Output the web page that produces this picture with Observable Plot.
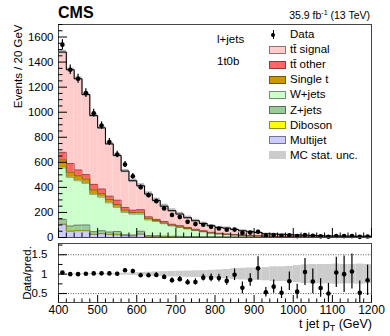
<!DOCTYPE html>
<html><head><meta charset="utf-8">
<script src="https://cdn.jsdelivr.net/npm/d3@7"></script>
<script src="https://cdn.jsdelivr.net/npm/@observablehq/plot@0.6"></script>
<style>
body{margin:0;background:#fff;}
#c{position:relative;width:390px;height:336px;font-family:"Liberation Sans",Arial,sans-serif;color:#000;overflow:hidden;background:#fff}
.abs{position:absolute;white-space:nowrap;line-height:1}
#main{position:absolute;left:0;top:0}
#ratio{position:absolute;left:0;top:237px}
.sw{position:absolute;width:17px;height:8px;box-sizing:border-box}
</style></head><body><div id="c"><div id="main"></div><div id="ratio"></div></div>
<script>
const binLow=[400,420,440,460,480,500,520,540,560,580,600,620,640,660,680,700,720,740,760,780,800,820,840,860,880,900,920,940,960,980,1000,1020,1040,1060,1080,1100,1120,1140,1160,1180];
const binWidth=20;
const multijet=[105,50,54,54,24,30,24,22,14,12,27,8,8,6,5,5,4,4,3,3,3,2,2,2,2,1,1,1,1,1,1,1,0.5,0.5,0.5,0.5,0.5,0.5,0.4,0.4];
const diboson=[3,3,3,3,3,3,2,2,2,2,2,2,2,1,1,1,1,1,1,1,0.5,0.5,0.5,0.5,0.3,0.3,0.3,0.2,0.2,0.2,0.2,0.2,0.2,0.2,0.1,0.1,0.1,0.1,0.1,0.1];
const zjets=[37,39,42,43,20,21,18,24,6,6,21,5,4,4,4,3,3,2,2,2,1.5,2.5,1.5,1.5,0.7,1.7,1.7,0.8,0.8,0.8,0.8,0.8,0.8,0.8,0.4,0.4,0.4,0.4,0.4,0.4];
const wjets=[410,388,354,332,297,268,232,192,178,166,136,125,114,99,82,71,60,48,39,28,23,18,15,12,9,8,7,6,5,4,4,3,3,2.5,2.5,2,2,2,1.8,1.8];
const singleT=[65,42,40,35,36,28,29,23,20,14,17,14,7,6,6,5,4,3,3,3,2,2,2,1,1,1,1,1,1,1,0.5,0.5,0.5,0.5,0.5,0.5,0.5,0.4,0.4,0.4];
const ttOther=[60,68,46,35,44,37,25,35,20,18,19,11,10,12,8,9,8,8,6,5,4,3,3,3,2,2,1,1,1,1,0.5,0.5,0.5,0.5,0.5,0.5,0.5,0.4,0.4,0.4];
const ttSignal=[800,749,728,639,549,488,417,357,290,235,191,182,151,122,108,93,78,68,58,52,46,47,40,34,31,26,18,18,16,14,13,12,10.5,9,7.5,7.5,7,6.5,6.1,6];
const dataCounts=[1539,1339,1267,1152,992,893,762,662,583,489,401,337,290,232,180,163,125,107,102,85,72,62,63,35,39,46,16,19,13,18,11,19,13,9,6,12,11,11,5,8];
const ratioErr=[0.027,0.028,0.029,0.03,0.032,0.034,0.037,0.04,0.045,0.05,0.05,0.055,0.06,0.065,0.065,0.07,0.07,0.08,0.09,0.1,0.1,0.11,0.15,0.15,0.16,0.30,0.12,0.17,0.15,0.24,0.19,0.35,0.32,0.24,0.26,0.39,0.47,0.45,0.30,0.39];
const mcRelUnc=[0.01,0.01,0.012,0.012,0.015,0.015,0.018,0.02,0.025,0.03,0.04,0.05,0.06,0.065,0.07,0.075,0.08,0.085,0.09,0.1,0.11,0.12,0.14,0.15,0.16,0.16,0.17,0.19,0.19,0.2,0.22,0.24,0.25,0.25,0.25,0.26,0.25,0.25,0.26,0.25];
const xTicksMajor=[400,500,600,700,800,900,1000,1100,1200];
const yTicksMain=[0,200,400,600,800,1000,1200,1400,1600];
const yTicksRatio=[0.5,1,1.5];
const yTicksRatioMinor=[0.75,1.25,1.75];
const processNames=["Multijet","Diboson","Z+jets","W+jets","Single t","tt\u0304 other","tt\u0304 signal"];
const processColors=["#ccccff","#ffff00","#99cc99","#ccffcc","#cc9900","#ff6666","#ffcccc"];
const processValues=[multijet,diboson,zjets,wjets,singleT,ttOther,ttSignal];

const xMinor=d3.range(400,1201,20).filter(v=>v%100!==0);
const yMinorMain=d3.range(0,1701,50).filter(v=>v%200!==0);

const rects=[], tops=[];
const totals=binLow.map((x,i)=>d3.sum(processValues,a=>a[i]));
binLow.forEach((x,i)=>{
  let cum=0;
  processValues.forEach((arr,k)=>{
    const y1=cum, y2=cum+arr[i]; cum=y2;
    rects.push({x1:x,x2:x+binWidth,y1,y2,fill:processColors[k]});
  });
});
processValues.forEach((arr,k)=>{
  const pts=binLow.map((x,i)=>({x, y:d3.sum(processValues.slice(0,k+1),a=>a[i]), k}));
  pts.push({x:1200,y:pts[pts.length-1].y,k});
  tops.push(...pts);
});
const bins=binLow.map((x,i)=>({x1:x,x2:x+binWidth,xc:x+binWidth/2,total:totals[i],data:dataCounts[i],
  ratio:dataCounts[i]/totals[i],rerr:ratioErr[i],rel:mcRelUnc[i],err:ratioErr[i]*totals[i]}));
const totalLine=bins.map(b=>({x:b.x1,y:b.total}));
totalLine.push({x:1200,y:totals[totals.length-1]});
const strokeFor=k=>d3.color(processColors[k]).darker(1.6).formatHex();

const font='"Liberation Sans",Arial,sans-serif';
const main=Plot.plot({
  width:390,height:243,marginLeft:58,marginRight:19,marginTop:24,marginBottom:6,
  style:{fontFamily:font,fontSize:"11.5px",background:"transparent",color:"#000"},
  x:{domain:[400,1200],label:null},
  y:{domain:[0,1700],label:null},
  color:{type:"identity"},
  marks:[
    Plot.rect(rects,{x1:"x1",x2:"x2",y1:"y1",y2:"y2",fill:"fill"}),
    Plot.line(tops,{x:"x",y:"y",z:"k",stroke:d=>strokeFor(d.k),strokeWidth:0.8,curve:"step-after"}),
    Plot.rect(bins,{x1:"x1",x2:"x2",y1:d=>d.total*(1-d.rel),y2:d=>d.total*(1+d.rel),fill:"#b8b8b8"}),
    Plot.line(totalLine,{x:"x",y:"y",stroke:"#000",strokeWidth:1,curve:"step-after"}),
    Plot.ruleX(bins,{x:"xc",y1:d=>d.data-d.err,y2:d=>d.data+d.err,stroke:"#000",strokeWidth:1.2}),
    Plot.dot(bins,{x:"xc",y:"data",r:2.3,fill:"#000"}),
    Plot.frame({stroke:"#444"}),
    Plot.axisY({ticks:yTicksMain,tickSize:9,dx:9,tickFormat:()=>"",label:null}),
    Plot.axisY({ticks:yMinorMain,tickSize:4.5,dx:4.5,tickFormat:()=>"",label:null}),
    Plot.axisY({ticks:yTicksMain,tickSize:0,tickPadding:5,fontSize:11.5,tickFormat:d=>String(d),label:null}),
    Plot.axisX({ticks:xTicksMajor,tickSize:9,dy:-9,tickFormat:()=>"",label:null}),
    Plot.axisX({ticks:xMinor,tickSize:4.5,dy:-4.5,tickFormat:()=>"",label:null}),
    Plot.text(["Events / 20 GeV"],{frameAnchor:"top-left",rotate:-90,textAnchor:"end",dx:-45,dy:0,fontSize:11.5})
  ]
});
document.getElementById("main").appendChild(main);

const ratio=Plot.plot({
  width:390,height:99,marginLeft:58,marginRight:19,marginTop:6,marginBottom:34,
  style:{fontFamily:font,fontSize:"11.5px",background:"transparent",color:"#000"},
  x:{domain:[400,1200],label:null},
  y:{domain:[0.27,1.79],label:null},
  marks:[
    Plot.rect(bins,{x1:"x1",x2:"x2",y1:d=>1-d.rel,y2:d=>1+d.rel,fill:"#cccccc",clip:true}),
    Plot.ruleY(yTicksRatio.filter(v=>v!==1),{stroke:"#333",strokeWidth:0.8,strokeDasharray:"1,1.5"}),
    Plot.ruleX(bins,{x:"xc",y1:d=>d.ratio-d.rerr,y2:d=>d.ratio+d.rerr,stroke:"#000",strokeWidth:1.2,clip:true}),
    Plot.dot(bins,{x:"xc",y:"ratio",r:2.3,fill:"#000",clip:true}),
    Plot.frame({stroke:"#444"}),
    Plot.axisY({ticks:yTicksRatio,tickSize:9,dx:9,tickFormat:()=>"",label:null}),
    Plot.axisY({ticks:yTicksRatioMinor,tickSize:4.5,dx:4.5,tickFormat:()=>"",label:null}),
    Plot.axisY({ticks:yTicksRatio,tickSize:0,tickPadding:11,fontSize:11.5,tickFormat:d=>String(d),label:null}),
    Plot.axisX({ticks:xTicksMajor,tickSize:7,dy:-7,tickFormat:()=>"",label:null}),
    Plot.axisX({ticks:xMinor,tickSize:3.5,dy:-3.5,tickFormat:()=>"",label:null}),
    Plot.axisX({ticks:xTicksMajor,tickSize:0,tickPadding:3,fontSize:12,tickFormat:d=>String(d),label:null}),
    Plot.text(["Data/pred."],{frameAnchor:"left",rotate:-90,textAnchor:"middle",dx:-31,fontSize:11.5})
  ]
});
document.getElementById("ratio").appendChild(ratio);

const c=document.getElementById("c");
function addText(html,css){const d=document.createElement("div");d.className="abs";d.innerHTML=html;Object.assign(d.style,css);c.appendChild(d);return d;}
addText("CMS",{left:"58px",top:"5px",fontSize:"16px",fontWeight:"bold"});
addText("35.9 fb<sup style='font-size:7px;vertical-align:4px'>-1</sup> (13 TeV)",{right:"20px",top:"9px",fontSize:"10.5px"});
addText("l+jets",{left:"217px",top:"34px",fontSize:"11.5px"});
addText("1t0b",{left:"217px",top:"56px",fontSize:"11.5px"});
addText("t jet p<sub style='font-size:9px;vertical-align:-3px'>T</sub> (GeV)",{right:"18px",top:"318px",fontSize:"12.5px"});

const legendRows=[
  {label:"Data",type:"data"},
  {label:processNames[6],color:processColors[6],stroke:strokeFor(6)},
  {label:processNames[5],color:processColors[5],stroke:strokeFor(5)},
  {label:processNames[4],color:processColors[4],stroke:strokeFor(4)},
  {label:processNames[3],color:processColors[3],stroke:strokeFor(3)},
  {label:processNames[2],color:processColors[2],stroke:strokeFor(2)},
  {label:processNames[1],color:processColors[1],stroke:strokeFor(1)},
  {label:processNames[0],color:processColors[0],stroke:strokeFor(0)},
  {label:"MC stat. unc.",color:"#cccccc",stroke:"#cccccc"}
];
legendRows.forEach((r,i)=>{
  const cy=34.5+i*15.1;
  addText(r.label,{left:"290px",top:(cy-5.5)+"px",fontSize:"11.5px"});
  if(r.type==="data"){
    const dot=document.createElement("div");
    Object.assign(dot.style,{position:"absolute",left:(273-2)+"px",top:(cy-2)+"px",width:"4px",height:"4px",borderRadius:"2px",background:"#000"});
    const bar=document.createElement("div");
    Object.assign(bar.style,{position:"absolute",left:"272.5px",top:(cy-4.5)+"px",width:"1px",height:"9px",background:"#000"});
    c.appendChild(bar);c.appendChild(dot);
  } else {
    const s=document.createElement("div");s.className="sw";
    Object.assign(s.style,{left:"269px",top:(cy-4)+"px",background:r.color,border:"1px solid "+r.stroke});
    c.appendChild(s);
  }
});
</script></body></html>
